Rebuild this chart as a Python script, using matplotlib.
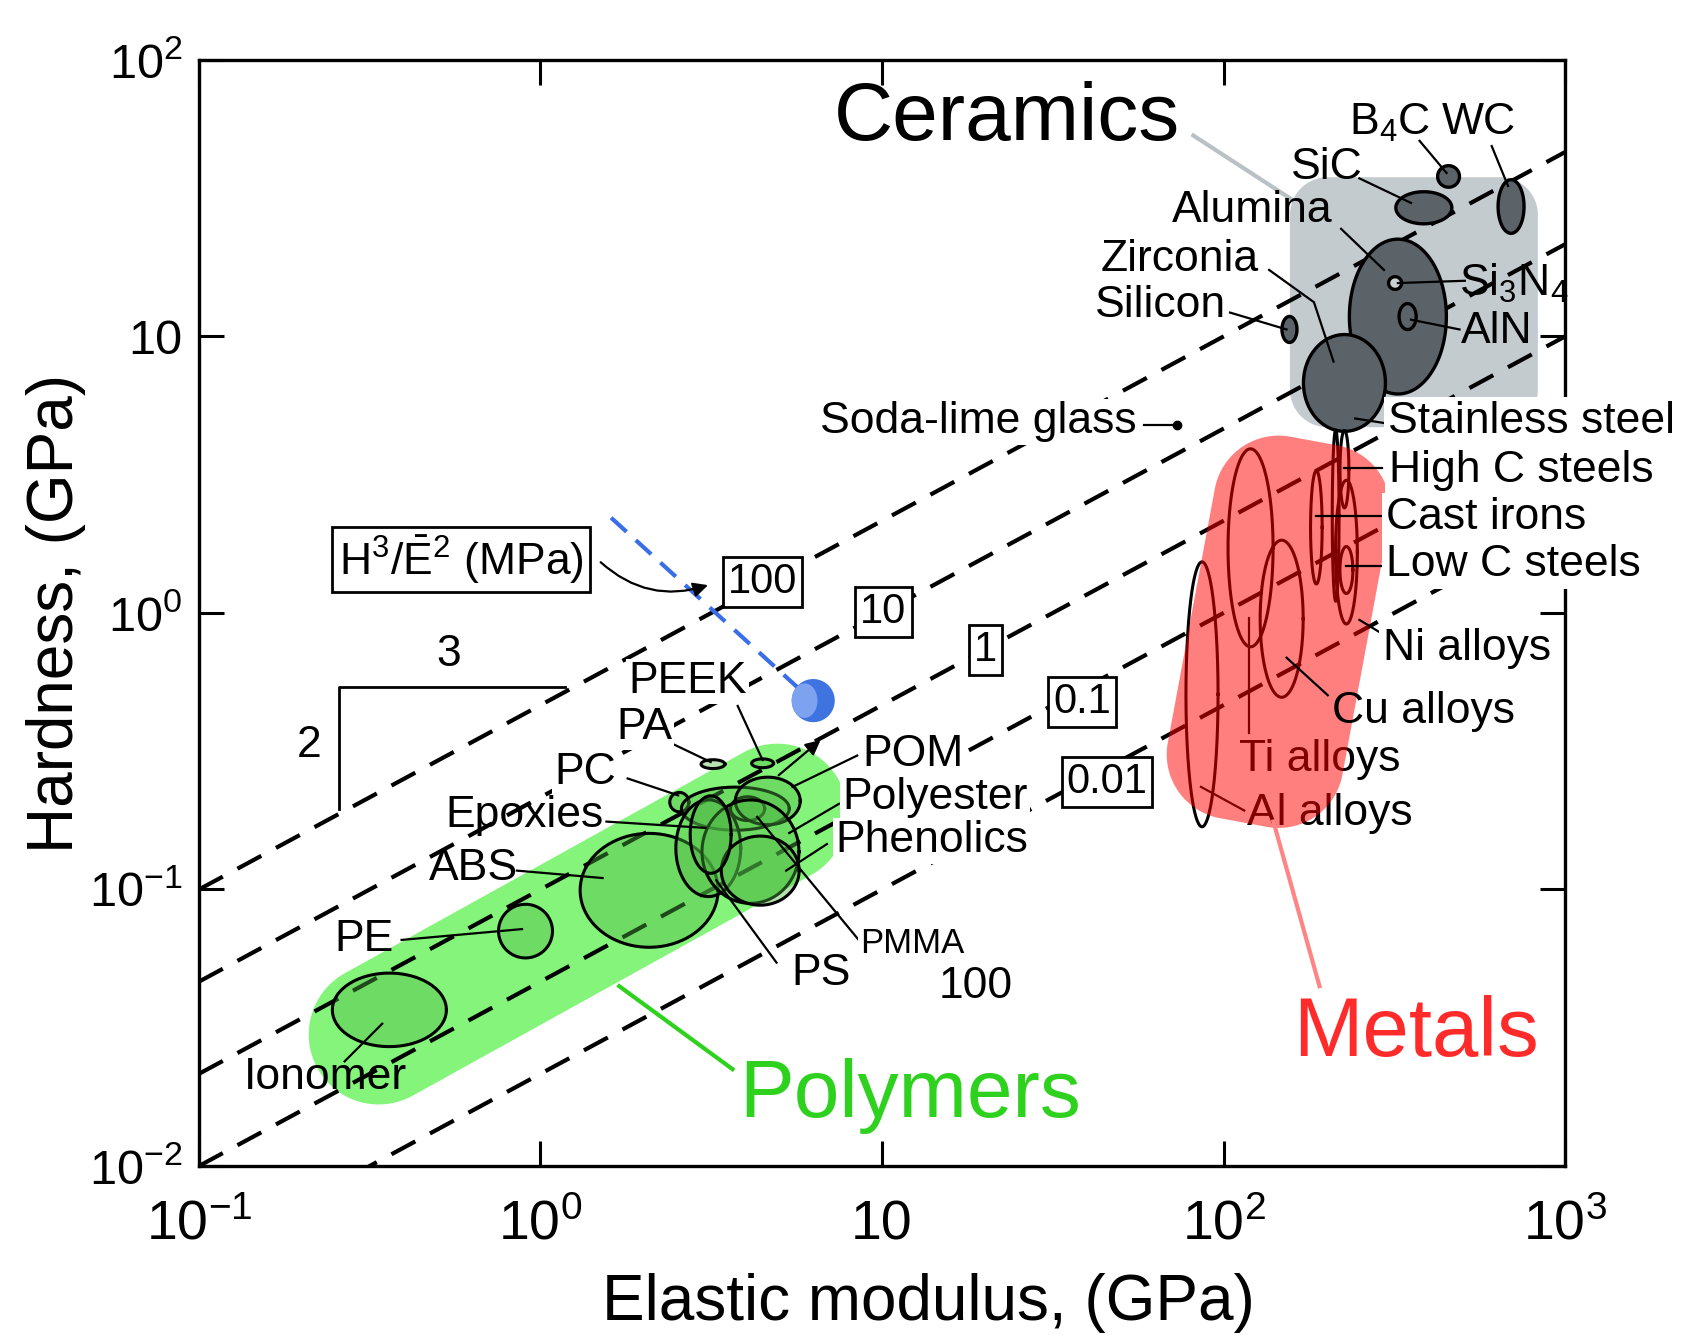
import numpy as np
import matplotlib
matplotlib.use("Agg")
import matplotlib.pyplot as plt

plt.rcParams['font.family'] = ['Liberation Sans', 'DejaVu Sans']
plt.rcParams['mathtext.fontset'] = 'custom'
plt.rcParams['mathtext.rm'] = 'Liberation Sans'
plt.rcParams['mathtext.it'] = 'Liberation Sans'
plt.rcParams['mathtext.default'] = 'regular'

# ---- data (E in GPa, H in GPa, sizes in decades) ----
# guide lines H^3/E^2 (MPa)
index_values = [100, 10, 1, 0.1, 0.01]
index_labels = ['100', '10', '1', '0.1', '0.01']
index_label_E = [4.47, 10.1, 20.1, 38.6, 45.6]
index_label_H = [1.29, 1.005, 0.734, 0.478, 0.244]
E_range = [0.1, 1000]

polymer_names = ['Ionomer', 'PE', 'ABS', 'PC', 'Nylon', 'PMMA', 'POM', 'PS',
                 'Phenolics', 'Polyester', 'Epoxies', 'PA', 'PEEK']
polymer_E = [0.361, 0.904, 2.08, 2.55, 3.72, 4.04, 4.63, 3.10, 4.12, 4.40, 3.15, 3.20, 4.47]
polymer_H = [0.0367, 0.0707, 0.0993, 0.207, 0.196, 0.196, 0.209, 0.141, 0.137, 0.117, 0.158, 0.284, 0.286]
polymer_dE = [0.167, 0.079, 0.202, 0.028, 0.158, 0.050, 0.095, 0.095, 0.142, 0.114, 0.060, 0.035, 0.032]
polymer_dH = [0.133, 0.097, 0.206, 0.035, 0.078, 0.043, 0.086, 0.175, 0.187, 0.125, 0.140, 0.016, 0.016]

ceramic_names = ['B4C', 'SiC', 'WC', 'Alumina', 'Zirconia', 'Silicon', 'AlN', 'Si3N4']
ceramic_E = [456, 386, 695, 324, 226, 156, 346, 318]
ceramic_H = [37.9, 29.2, 29.5, 11.8, 6.79, 10.6, 11.8, 15.6]
ceramic_dE = [0.032, 0.082, 0.038, 0.142, 0.120, 0.022, 0.025, 0.019]
ceramic_dH = [0.039, 0.058, 0.097, 0.280, 0.175, 0.047, 0.047, 0.023]

metal_names = ['Al alloys', 'Ti alloys', 'Cu alloys', 'Cast irons', 'Ni alloys',
               'Low C steels', 'High C steels', 'Stainless steel']
metal_E = [86.5, 120, 148, 187, 229, 229, 226, 213]
metal_H = [0.508, 1.72, 0.953, 2.04, 1.66, 1.43, 3.31, 2.25]
metal_dE = [0.047, 0.066, 0.063, 0.017, 0.032, 0.019, 0.013, 0.010]
metal_dH = [0.479, 0.358, 0.284, 0.205, 0.260, 0.085, 0.140, 0.310]

glass_E, glass_H = 73.2, 4.78

# family envelopes
polymer_band_E = [0.336, 4.94]
polymer_band_H = [0.0299, 0.188]
polymer_band_r = 0.205
ceramic_box = (361, 13.3, 0.726, 0.732, 0.11, 0.0)
metal_box = (145, 0.855, 0.52, 1.136, 0.19, -10.5)

# labels: text, E, H, white background pad (0 = none)
ceramic_labels = [('B$_4$C', 306, 59.4, 0), ('WC', 560, 59.4, 0),
                  ('SiC', 201, 40.8, 0), ('Alumina', 121, 28.5, 0),
                  ('Zirconia', 74.2, 19.0, 1.5), ('Silicon', 65.2, 12.9, 1.5),
                  ('Si$_3$N$_4$', 706, 15.6, 0), ('AlN', 632, 10.4, 0),
                  ('Soda-lime glass', 19.1, 4.91, 1.5)]
metal_labels = [('Stainless steel', 798, 4.91, 3), ('High C steels', 743, 3.28, 3),
                ('Cast irons', 589, 2.21, 3), ('Low C steels', 706, 1.50, 3),
                ('Ni alloys', 516, 0.741, 3), ('Cu alloys', 386, 0.441, 0)]
metal_inside_labels = [('Ti alloys', 191, 0.294), ('Al alloys', 205, 0.188)]
polymer_labels = [('PEEK', 2.69, 0.566, 1.5), ('PA', 2.01, 0.385, 1.5),
                  ('PC', 1.35, 0.264, 1.5), ('Epoxies', 0.897, 0.185, 0),
                  ('ABS', 0.637, 0.119, 0), ('PE', 0.304, 0.0657, 0),
                  ('POM', 12.3, 0.308, 1.5), ('Polyester', 14.3, 0.215, 1.5),
                  ('Phenolics', 14.0, 0.150, 1.5), ('PS', 6.61, 0.0498, 1.5),
                  ('100', 18.8, 0.0447, 0), ('3', 0.539, 0.708, 0),
                  ('2', 0.210, 0.331, 0), ('Ionomer', 0.234, 0.0209, 0)]

leaders = [
    ([375, 450], [51.0, 39.0]), ([610, 681], [48.8, 35.0]),
    ([250, 354], [37.3, 30.4]), ([221, 295], [24.5, 17.4]),
    ([136, 184, 210], [17.4, 13.3, 8.11]), ([104.5, 153], [12.2, 10.6]),
    ([509, 324], [15.9, 15.6]), ([491, 354], [10.6, 11.5]),
    ([306, 243], [4.83, 5.05]), ([58.5, 73.2], [4.78, 4.78]),
    ([291, 226], [3.34, 3.34]), ([295, 187], [2.25, 2.25]),
    ([289, 229], [1.48, 1.48]), ([299, 250], [0.825, 0.944]),
    ([202, 153], [0.504, 0.689]),
    ([3.78, 4.47], [0.461, 0.294]), ([2.44, 3.15], [0.336, 0.289]),
    ([1.80, 2.53], [0.252, 0.219]), ([1.56, 3.04], [0.176, 0.167]),
    ([0.853, 1.52], [0.117, 0.110]), ([0.392, 0.883], [0.0657, 0.0719]),
    ([0.267, 0.344], [0.0239, 0.0327]), ([8.46, 5.47], [0.305, 0.235]),
    ([7.48, 5.35], [0.204, 0.160]), ([6.90, 5.24], [0.146, 0.117]),
    ([8.59, 4.31], [0.0652, 0.183]), ([4.91, 3.27], [0.0544, 0.108]),
]
metal_inside_leaders = [([119, 119], [0.368, 0.960]), ([115, 85.9], [0.193, 0.235])]

# slope triangle (on the 100 line)
tri_E = [1.18, 0.257, 0.257]
tri_H = [0.541, 0.541, 0.196]

# blue dashed indicator and sphere
blue_E = [1.61, 6.15]
blue_H = [2.21, 0.490]
ball_E, ball_H, ball_dE, ball_dH = 6.29, 0.482, 0.063, 0.078

# ---- figure ----
fig_w, fig_h = 16.89, 13.35
ax_rect = [0.1178, 0.1266, 0.8088, 0.8285]
fig = plt.figure(figsize=(fig_w, fig_h), dpi=100)
ax = fig.add_axes(ax_rect)
ax.set_xscale('log')
ax.set_yscale('log')
ax.set_xlim(0.1, 1000)
ax.set_ylim(0.01, 100)
k = (fig_h * ax_rect[3]) / (fig_w * ax_rect[2])  # y-decade size relative to x-decade


def ellipse(E, H, dx, dy, n=160):
    t = np.linspace(0, 2 * np.pi, n)
    return 10 ** (np.log10(E) + dx * np.cos(t)), 10 ** (np.log10(H) + dy * np.sin(t))


def rounded_box(E, H, w, h, r, ang):
    cx, cy = np.log10(E), np.log10(H) * k
    hw, hh = w / 2 - r, h / 2 - r
    pts = []
    for sx, sy, a0 in [(1, 1, 0), (-1, 1, 90), (-1, -1, 180), (1, -1, 270)]:
        a = np.radians(np.linspace(a0, a0 + 90, 24))
        pts.append(np.column_stack([sx * hw + r * np.cos(a), sy * hh + r * np.sin(a)]))
    pts = np.vstack(pts)
    c, s = np.cos(np.radians(ang)), np.sin(np.radians(ang))
    X = cx + pts[:, 0] * c - pts[:, 1] * s
    Y = cy + pts[:, 0] * s + pts[:, 1] * c
    return 10 ** X, 10 ** (Y / k)


# envelopes
x1, y1 = np.log10(polymer_band_E[0]), np.log10(polymer_band_H[0]) * k
x2, y2 = np.log10(polymer_band_E[1]), np.log10(polymer_band_H[1]) * k
L = np.hypot(x2 - x1, y2 - y1)
ang = np.degrees(np.arctan2(y2 - y1, x2 - x1))
px, py = rounded_box(np.sqrt(polymer_band_E[0] * polymer_band_E[1]),
                     np.sqrt(polymer_band_H[0] * polymer_band_H[1]),
                     L + 2 * polymer_band_r, 2 * polymer_band_r, polymer_band_r, ang)
ax.fill(px, py, color='#84f57a', lw=0, zorder=1)

cx_, cy_ = rounded_box(*ceramic_box)
ax.fill(cx_, cy_, color='#c3cbcf', lw=0, zorder=1)

# guide lines
for c in index_values:
    H = [(c / 1000.0 * e ** 2) ** (1 / 3.0) for e in E_range]
    ax.plot(E_range, H, color='black', lw=3.0, linestyle=(0, (6.5, 4)), zorder=2)
for t, e, h in zip(index_labels, index_label_E, index_label_H):
    ax.text(e, h, t, fontsize=30, ha='center', va='center', zorder=6,
            bbox=dict(boxstyle='square,pad=0.12', fc='white', ec='black', lw=2))

# family members
for e, h, dx, dy in zip(polymer_E, polymer_H, polymer_dE, polymer_dH):
    ex, ey = ellipse(e, h, dx, dy)
    ax.fill(ex, ey, fc='#4fb845', alpha=0.4, lw=0, zorder=3)
    ax.plot(ex, ey, color='black', lw=2.2, zorder=3)
for name, e, h, dx, dy in zip(ceramic_names, ceramic_E, ceramic_H, ceramic_dE, ceramic_dH):
    ex, ey = ellipse(e, h, dx, dy)
    fc = '#c8d0d3' if name == 'Si3N4' else '#5b6369'
    ax.fill(ex, ey, fc=fc, ec='black', lw=2.4, zorder=3)
for e, h, dx, dy in zip(metal_E, metal_H, metal_dE, metal_dH):
    ex, ey = ellipse(e, h, dx, dy)
    ax.plot(ex, ey, color='black', lw=2.2, zorder=3)
ax.plot(glass_E, glass_H, 'o', color='black', ms=6, zorder=5)

# leaders
for le, lh in leaders:
    ax.plot(le, lh, color='black', lw=1.6, zorder=5)
for le, lh in metal_inside_leaders:
    ax.plot(le, lh, color='black', lw=1.6, zorder=3.5)

# labels
for t, e, h, pad in ceramic_labels + metal_labels + polymer_labels:
    kw = dict(bbox=dict(fc='white', ec='none', pad=pad)) if pad else {}
    ax.text(e, h, t, fontsize=32, ha='center', va='center', zorder=6, **kw)
for t, e, h in metal_inside_labels:
    ax.text(e, h, t, fontsize=32, ha='center', va='center', zorder=3.5)
ax.text(12.3, 0.0640, 'PMMA', fontsize=25, ha='center', va='center', zorder=6,
        bbox=dict(fc='white', ec='none', pad=2))

# metals envelope on top (translucent)
mx, my = rounded_box(*metal_box)
ax.fill(mx, my, color='red', alpha=0.5, lw=0, zorder=4)

# group labels
ax.text(23.2, 61.1, 'Ceramics', fontsize=59, ha='center', va='center', zorder=6)
ax.plot([81.6, 159], [53.3, 31.2], color='#b9c1c5', lw=3, zorder=1.5)
ax.text(367, 0.0299, 'Metals', fontsize=60, color='#ff2a2a', ha='center', va='center', zorder=6)
ax.plot([191, 140], [0.0447, 0.176], color='#ff8585', lw=3, zorder=4)
ax.text(12.1, 0.0179, 'Polymers', fontsize=59, color='#2fd11f', ha='center', va='center', zorder=6)
ax.plot([3.65, 1.70], [0.0224, 0.0447], color='#2fd11f', lw=3, zorder=4)

# slope triangle
ax.plot(tri_E, tri_H, color='black', lw=2, zorder=4)

# blue indicator
ax.plot(blue_E, blue_H, color='#3a6ee8', lw=3, linestyle=(0, (5, 3)), zorder=4)
bx, by = ellipse(ball_E, ball_H, ball_dE, ball_dH)
ax.fill(bx, by, color='#3f73e0', lw=0, zorder=5)
bx2, by2 = ellipse(ball_E / 1.06, ball_H, ball_dE * 0.6, ball_dH * 0.8)
ax.fill(bx2, by2, color='#7da2f0', lw=0, zorder=5)

# arrow near POM
ax.annotate('', xy=(6.70, 0.352), xytext=(4.91, 0.255),
            arrowprops=dict(arrowstyle='-|>', color='black', lw=1.6, mutation_scale=22), zorder=5)

# index label with curved arrow
ax.text(0.585, 1.56, '$H^3/\\bar{E}^2$ (MPa)', fontsize=32, ha='center', va='center', zorder=6,
        bbox=dict(boxstyle='square,pad=0.15', fc='white', ec='black', lw=2))
ax.annotate('', xy=(3.15, 1.27), xytext=(1.48, 1.55),
            arrowprops=dict(arrowstyle='-|>', color='black', lw=1.6, mutation_scale=22,
                            connectionstyle='arc3,rad=0.3'), zorder=6)

# axes styling
ax.set_xticks([0.1, 1, 10, 100, 1000])
ax.set_xticklabels(['$10^{-1}$', '$10^{0}$', '10', '$10^{2}$', '$10^{3}$'])
ax.set_yticks([0.01, 0.1, 1, 10, 100])
ax.set_yticklabels(['$10^{-2}$', '$10^{-1}$', '$10^{0}$', '10', '$10^{2}$'])
ax.minorticks_off()
ax.tick_params(which='major', direction='in', length=18, width=2.2,
               top=True, right=True)
ax.tick_params(axis='x', pad=24, labelsize=40)
ax.tick_params(axis='y', pad=12, labelsize=35)
for s in ax.spines.values():
    s.set_linewidth(2.4)
ax.set_xlabel('Elastic modulus, (GPa)', fontsize=46)
ax.set_ylabel('Hardness, (GPa)', fontsize=46)
ax.xaxis.set_label_coords(0.534, -0.097)
ax.yaxis.set_label_coords(-0.083, 0.5)

fig.savefig('out.png', dpi=100)
